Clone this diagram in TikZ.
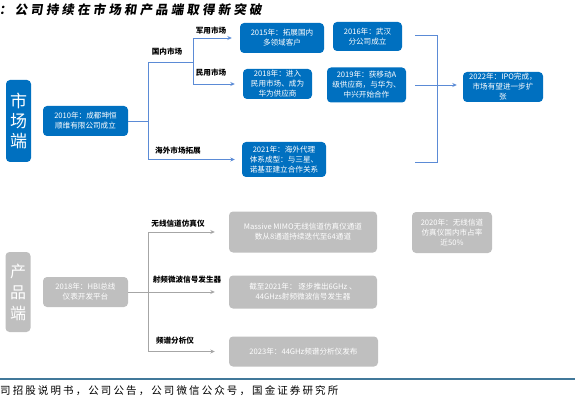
\documentclass[tikz,border=0pt]{standalone}
\usepackage{fontspec}
\setmainfont{Noto Sans CJK SC}
\newfontfamily\titlefont[FakeSlant=0.15,LetterSpace=25]{Noto Sans CJK SC}
\newfontfamily\footfont[LetterSpace=20]{Noto Sans CJK SC}
\usetikzlibrary{arrows.meta}

\definecolor{mktblue}{HTML}{0070C0}
\definecolor{mktline}{HTML}{5B8BD6}
\definecolor{prdgray}{HTML}{BFBFBF}
\definecolor{prdline}{HTML}{A6A6A6}
\definecolor{footline}{HTML}{41789A}

\begin{document}
\begin{tikzpicture}[x=1pt, y=-1pt, >={Stealth[length=4.5pt,width=4pt]},
    box/.style={rounded corners=4pt, align=center, text=white, inner sep=0pt,
        font=\fontsize{7.6}{10}\selectfont},
    bluebox/.style={box, fill=mktblue},
    graybox/.style={box, fill=prdgray},
    sidebox/.style={rounded corners=4pt, align=center, text=white, inner sep=0pt,
        minimum width=25pt, font=\fontsize{17}{20}\selectfont},
    lbl/.style={font=\fontsize{7.6}{9}\selectfont\bfseries, inner sep=0pt},
    mline/.style={mktline, line width=0.9pt},
    pline/.style={prdline, line width=0.9pt}]

    \useasboundingbox (0,0) rectangle (575,406);

    % titulo e fonte
    \node[anchor=west, inner sep=0pt, font=\titlefont\fontsize{12.5}{12.5}\selectfont\bfseries] (title) at (-1,9.5)
        {：公司持续在市场和产品端取得新突破};
    \draw[footline, line width=2pt] (0,379) -- (575,379);
    \node[anchor=west, inner sep=0pt, font=\footfont\fontsize{10.5}{10.5}\selectfont] (src) at (0,391)
        {司招股说明书，公司公告，公司微信公众号，国金证券研究所};

    % --- Mercado ---
    \node[sidebox, fill=mktblue, minimum height=82pt] (mkt) at (18.5,121) {市\\场\\端};
    \node[bluebox, minimum width=85pt, minimum height=30pt] (b2010) at (85.5,121)
        {2010年：成都坤恒\\顺维有限公司成立};

    \node[bluebox, minimum width=84pt, minimum height=30pt] (b2015) at (282,38)
        {2015年：拓展国内\\多领域客户};
    \node[bluebox, minimum width=69pt, minimum height=29pt] (b2016) at (367.5,36.5)
        {2016年：武汉\\分公司成立};
    \node[bluebox, minimum width=69pt, minimum height=30pt] (b2018) at (277.5,84)
        {2018年：进入\\民用市场、成为\\华为供应商};
    \node[bluebox, minimum width=79pt, minimum height=35pt] (b2019) at (366.5,85)
        {2019年：获移动A\\级供应商，与华为、\\中兴开始合作};
    \node[bluebox, minimum width=84pt, minimum height=35pt] (b2021) at (284,159.5)
        {2021年：海外代理\\体系成型：与三星、\\诺基亚建立合作关系};
    \node[bluebox, minimum width=80pt, minimum height=30pt] (b2022) at (503,87)
        {2022年：IPO完成，\\市场有望进一步扩\\张};

    % pontos de ramificacao
    \coordinate (dom) at (148,62);
    \coordinate (ovs) at (148,159.5);
    \coordinate (fork) at (193,62);
    \coordinate (rt) at (437,35);
    \coordinate (rb) at (437,162);
    \coordinate (re) at (415,162);

    \draw[mline] (b2010.east) -- (b2010.east -| dom);
    \draw[mline] (dom) -- (ovs);
    \draw[mline] (dom) -- (fork);
    \draw[mline, ->, shorten >=8pt] (fork) |- (b2015);
    \draw[mline, ->, shorten >=8pt] (fork) |- (b2018);
    \draw[mline, ->, shorten >=7pt] (ovs) -- (b2021);
    \draw[mline, shorten <=13pt] (b2016.east |- rt) -- (rt) -- (rb) -- (re);
    \draw[mline, ->, shorten <=9pt, shorten >=6pt] (b2019.east) -- (b2019.east -| b2022.west);

    \node[lbl] (ldom) at (167,52) {国内市场};
    \node[lbl] (lmil) at (211,31) {军用市场};
    \node[lbl] (lciv) at (211,73) {民用市场};
    \node[lbl] (lovs) at (178,151) {海外市场拓展};

    % --- Produto ---
    \node[sidebox, fill=prdgray, minimum height=80pt, font=\fontsize{16}{21}\selectfont] (prd) at (18,292) {产\\品\\端};
    \node[graybox, minimum width=85pt, minimum height=30pt] (hbi) at (85.5,292)
        {2018年：HBI总线\\仪表开发平台};

    \node[graybox, minimum width=148pt, minimum height=41pt] (mimo) at (303,232)
        {Massive MIMO无线信道仿真仪通道\\数从8通道持续迭代至64通道};
    \node[graybox, minimum width=148pt, minimum height=33pt] (sig) at (303,292)
        {截至2021年： 逐步推出6GHz 、\\44GHzs射频微波信号发生器};
    \node[graybox, minimum width=80pt, minimum height=41pt] (b2020) at (452,232.5)
        {2020年：无线信道\\仿真仪国内市占率\\近50\%};
    \node[graybox, minimum width=149pt, minimum height=30pt] (b2023) at (303.5,351.5)
        {2023年：44GHz频谱分析仪发布};

    \coordinate (pt) at (148,232);
    \coordinate (pb) at (148,351.5);

    \draw[pline] (pt) -- (pb);
    \draw[pline, ->, shorten >=14pt] (pt) -- (mimo);
    \draw[pline, ->, shorten >=14pt] (hbi) -- (sig);
    \draw[pline, ->, shorten >=14pt] (pb) -- (b2023);

    \node[lbl] (lwir) at (178,224) {无线信道仿真仪};
    \node[lbl] (lrf) at (187,280) {射频微波信号发生器};
    \node[lbl] (lspe) at (175,341) {频谱分析仪};

\end{tikzpicture}
\end{document}
